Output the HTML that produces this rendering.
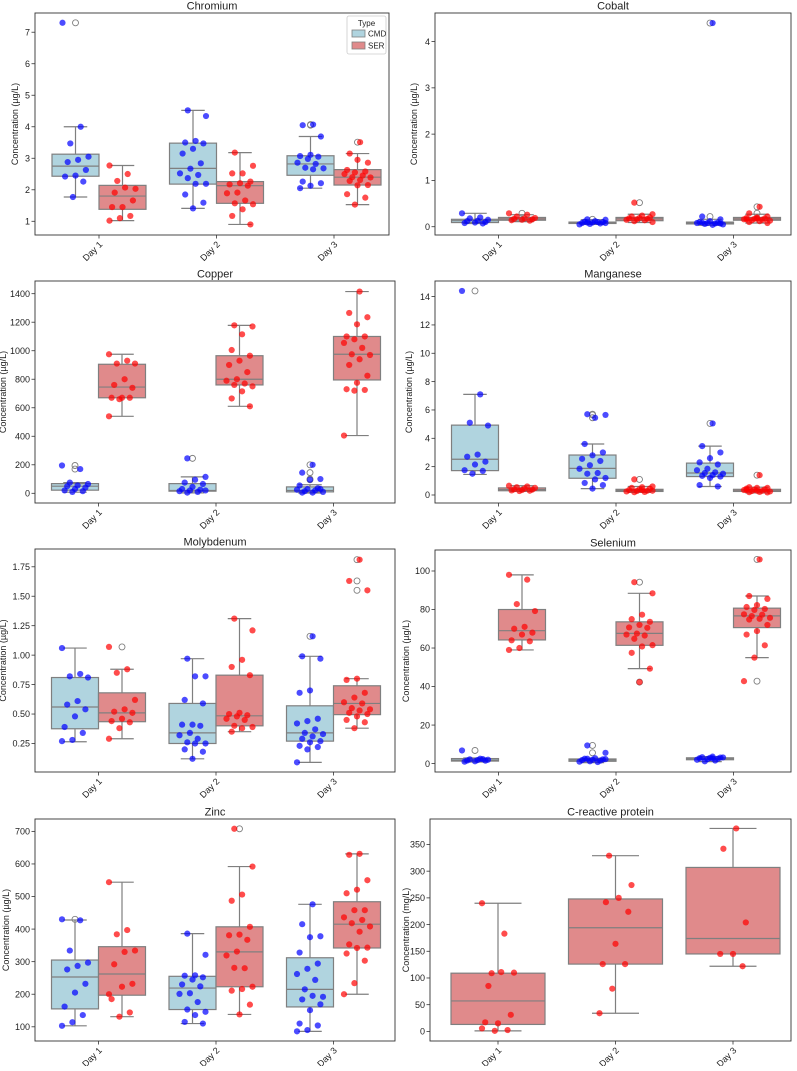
<!DOCTYPE html>
<html><head><meta charset="utf-8"><style>
body{margin:0;background:#fff}
svg text{font-family:"Liberation Sans","DejaVu Sans",sans-serif;fill:#222}
</style></head><body>
<svg id="fig" width="797" height="1066" viewBox="0 0 797 1066" xmlns="http://www.w3.org/2000/svg"></svg>
<script>
const days = ["Day 1","Day 2","Day 3"];

const chromiumTicks = [1,2,3,4,5,6,7];
const chromiumTickLabels = ["1","2","3","4","5","6","7"];
const chromiumCmd = [[7.3,4.0,3.47,3.05,2.95,2.88,2.63,2.45,2.42,2.26,1.77],[4.52,4.34,3.55,3.5,3.47,3.3,3.15,2.84,2.67,2.52,2.47,2.37,2.19,2.19,1.85,1.59,1.41],[4.07,4.05,3.69,3.11,3.07,3.05,2.98,2.86,2.82,2.7,2.68,2.65,2.26,2.21,2.13,2.05]];
const chromiumSer = [[2.77,2.5,2.28,2.03,2.07,1.91,1.66,1.45,1.45,1.17,1.1,1.02],[3.18,2.76,2.52,2.52,2.26,2.21,2.17,2.13,1.91,1.89,1.66,1.57,1.54,1.38,1.17,0.9],[3.51,3.15,2.86,2.95,2.63,2.58,2.55,2.5,2.45,2.4,2.39,2.31,2.28,2.15,2.14,1.86,1.75,1.53]];
const chromiumCmdBox = [[2.43,2.75,3.13,1.77,4.0],[2.18,2.68,3.48,1.41,4.52],[2.46,2.82,3.08,2.05,3.69]];
const chromiumSerBox = [[1.38,1.8,2.14,1.02,2.77],[1.57,2.13,2.26,0.9,3.18],[2.15,2.4,2.64,1.53,3.15]];

const cobaltTicks = [0,1,2,3,4];
const cobaltTickLabels = ["0","1","2","3","4"];
const cobaltCmd = [[0.29,0.2,0.18,0.15,0.13,0.12,0.1,0.09,0.08,0.07],[0.16,0.15,0.12,0.11,0.1,0.09,0.08,0.07,0.06,0.05,0.1,0.09,0.08],[4.4,0.22,0.16,0.12,0.1,0.09,0.08,0.08,0.07,0.06,0.05,0.04,0.09,0.07]];
const cobaltSer = [[0.29,0.26,0.22,0.19,0.18,0.17,0.16,0.15,0.14,0.13],[0.52,0.27,0.24,0.22,0.2,0.19,0.18,0.17,0.16,0.15,0.14,0.12,0.1],[0.43,0.29,0.22,0.2,0.19,0.18,0.17,0.16,0.15,0.14,0.13,0.12,0.1,0.08,0.18,0.16]];
const cobaltCmdBox = [[0.09,0.13,0.16,0.07,0.29],[0.07,0.09,0.1,0.05,0.15],[0.06,0.08,0.1,0.03,0.16]];
const cobaltSerBox = [[0.14,0.17,0.2,0.11,0.26],[0.13,0.17,0.2,0.09,0.27],[0.14,0.17,0.2,0.08,0.27]];

const copperTicks = [0,200,400,600,800,1000,1200,1400];
const copperTickLabels = ["0","200","400","600","800","1000","1200","1400"];
const copperCmd = [[195,170,75,65,55,50,40,30,20,15,10],[245,115,95,75,65,45,30,25,20,15,10,5,20],[200,145,100,95,55,35,30,25,20,15,10,5,5,30]];
const copperSer = [[975,930,910,910,800,760,740,670,670,670,660,540],[1178,1170,1115,1005,965,930,900,850,800,790,770,760,750,715,665,610],[1415,1265,1235,1185,1100,1100,1080,1055,1020,975,970,940,900,825,775,730,725,720,405]];
const copperCmdBox = [[22,50,68,8,75],[15,20,68,3,115],[10,20,45,2,60]];
const copperSerBox = [[670,745,905,540,975],[760,800,965,610,1178],[795,975,1100,405,1415]];

const manganeseTicks = [0,2,4,6,8,10,12,14];
const manganeseTickLabels = ["0","2","4","6","8","10","12","14"];
const manganeseCmd = [[14.4,7.1,5.1,4.9,2.85,2.7,2.35,2.15,1.75,1.7,1.5],[5.7,5.65,5.45,3.6,3.0,2.8,2.55,2.4,2.1,1.85,1.55,1.5,1.2,1.1,0.85,0.7,0.45],[5.05,3.45,3.0,2.6,2.3,2.15,1.85,1.75,1.6,1.55,1.5,1.4,1.35,1.3,1.2,0.7,0.6]];
const manganeseSer = [[0.65,0.6,0.55,0.5,0.45,0.4,0.38,0.35,0.32,0.3,0.28],[1.1,0.6,0.55,0.5,0.45,0.4,0.35,0.3,0.28,0.25,0.22,0.2,0.3,0.35],[1.4,0.55,0.5,0.5,0.45,0.4,0.38,0.35,0.3,0.28,0.25,0.22,0.2,0.18,0.3,0.35]];
const manganeseCmdBox = [[1.72,2.52,4.93,1.45,7.1],[1.18,1.88,2.82,0.45,3.6],[1.3,1.55,2.25,0.6,3.45]];
const manganeseSerBox = [[0.3,0.38,0.5,0.25,0.65],[0.25,0.32,0.4,0.18,0.6],[0.25,0.3,0.4,0.15,0.55]];

const molybdenumTicks = [0.25,0.5,0.75,1.0,1.25,1.5,1.75];
const molybdenumTickLabels = ["0.25","0.50","0.75","1.00","1.25","1.50","1.75"];
const molybdenumCmd = [[1.06,0.84,0.82,0.81,0.61,0.58,0.54,0.48,0.39,0.34,0.28,0.27],[0.97,0.82,0.82,0.62,0.59,0.41,0.41,0.40,0.34,0.32,0.29,0.26,0.25,0.25,0.20,0.18,0.12],[1.16,0.99,0.97,0.7,0.68,0.46,0.44,0.42,0.37,0.34,0.33,0.31,0.29,0.27,0.26,0.23,0.22,0.2,0.09]];
const molybdenumSer = [[1.07,0.88,0.85,0.62,0.54,0.52,0.51,0.46,0.44,0.43,0.38,0.29],[1.31,1.21,0.96,0.9,0.83,0.51,0.5,0.49,0.48,0.46,0.45,0.40,0.39,0.38,0.35],[1.81,1.63,1.55,0.8,0.79,0.68,0.64,0.6,0.59,0.55,0.54,0.53,0.51,0.5,0.48,0.45,0.43,0.38]];
const molybdenumCmdBox = [[0.375,0.56,0.81,0.265,1.06],[0.25,0.34,0.59,0.12,0.97],[0.27,0.34,0.57,0.09,0.99]];
const molybdenumSerBox = [[0.435,0.51,0.68,0.29,0.88],[0.40,0.485,0.83,0.35,1.31],[0.495,0.59,0.74,0.38,0.80]];

const seleniumTicks = [0,20,40,60,80,100];
const seleniumTickLabels = ["0","20","40","60","80","100"];
const seleniumCmd = [[6.8,2.5,2.2,2,1.8,1.6,1.5,1.2,1,2.3],[9.4,5.6,2.8,2.5,2.2,2,1.8,1.5,1.2,1,0.8,2.5,2.3],[3.6,3.3,3.1,3,2.8,2.5,2.3,2,1.6,1.2,3.2,2.7]];
const seleniumSer = [[98,95.5,82.8,79.2,71,70,68,67,64,63.5,60,59],[94.2,88.4,77.3,75,73.6,72,70.7,70.5,67.5,67,66.5,64.8,61.5,60.8,57.5,49.3,42.3],[106,87,85.5,82.3,81.3,80.3,79.8,77.5,77.3,76.6,75.7,75.2,74.8,72,68.8,67,61.4,55,42.8]];
const seleniumCmdBox = [[1.3,1.8,2.6,0.8,2.9],[1.2,1.8,2.4,0.5,2.8],[2.0,2.5,3.0,1.0,3.6]];
const seleniumSerBox = [[64.2,69,80,59,98],[61.4,67.6,73.6,49.3,88.4],[70.6,76.7,80.7,55,87]];

const zincTicks = [100,200,300,400,500,600,700];
const zincTickLabels = ["100","200","300","400","500","600","700"];
const zincCmd = [[430,427,334,297,287,276,232,205,162,136,114,103],[386,321,258,257,252,245,230,224,203,201,176,153,146,136,115,110],[476,415,378,375,328,294,278,262,244,215,192,195,184,169,151,110,104,90,86]];
const zincSer = [[544,397,384,334,330,292,232,223,185,144,131,200],[708,592,506,487,407,383,381,367,331,319,280,281,223,216,211,168,138],[631,628,550,521,510,458,458,436,428,418,408,392,353,343,342,325,303,234,200]];
const zincCmdBox = [[155,253,305,103,428],[153,219,255,110,386],[161,215,312,86,476]];
const zincSerBox = [[197,262,346,131,544],[223,330,407,138,592],[342,415,484,200,631]];

const crpTicks = [0,50,100,150,200,250,300,350];
const crpTickLabels = ["0","50","100","150","200","250","300","350"];
const crpSer = [[240,183,109,110,111,85,31,15,17,2.5,1,5.6],[329,274,250,242,224,164,126,126,80,34],[380,342,204,145,145,122]];
const crpSerBox = [[13,57,109,1,240],[126,194,248,34,329],[145,174,307,122,380]];

const NS = "http://www.w3.org/2000/svg";
const fig = document.getElementById('fig');
function mk(tag, attrs, parent){const e=document.createElementNS(NS,tag);for(const k in attrs)e.setAttribute(k,attrs[k]);(parent||fig).appendChild(e);return e;}

function panel(cfg){
  const g = mk('g',{});
  
  
  const L=cfg.L,R=cfg.R,T=cfg.T,B=cfg.B;
  const ys = v => B - (v - cfg.ymin)/(cfg.ymax - cfg.ymin)*(B-T);
  const xs = i => cfg.x0 + i*117.5;
  const title = mk('text',{x:(L+R)/2,y:T-3.5,'text-anchor':'middle','font-size':11},g);
  title.textContent = cfg.title;
  
  
  const yl = mk('text',{x:0,y:0,'text-anchor':'middle','font-size':9,transform:`translate(${cfg.ylx},${(T+B)/2}) rotate(-90)`},g);
  yl.textContent = cfg.ylabel;
  
  
  cfg.ticks.forEach((t,k)=>{
    const y=ys(t);
    mk('line',{x1:L-3.5,x2:L,y1:y,y2:y,stroke:'#333','stroke-width':0.8},g);
    const tl = mk('text',{x:L-5,y:y+3.2,'text-anchor':'end','font-size':9},g);
    tl.textContent = cfg.tickLabels[k];
    
    
  });
  days.forEach((d,i)=>{
    const x=xs(i);
    mk('line',{x1:x,x2:x,y1:B,y2:B+3.5,stroke:'#333','stroke-width':0.8},g);
    const tl = mk('text',{x:0,y:0,'text-anchor':'end','font-size':9,transform:`translate(${x+4},${B+10}) rotate(-45)`},g);
    tl.textContent = d;
    
    
  });
  cfg.series.forEach(s=>{
    s.box.forEach((b,i)=>{
      const cx = xs(i) + s.off, w = s.w;
      const [q1,med,q3,lo,hi] = b;
      mk('line',{x1:cx,x2:cx,y1:ys(q3),y2:ys(hi),stroke:'#7f7f7f','stroke-width':1.2},g);
      mk('line',{x1:cx,x2:cx,y1:ys(q1),y2:ys(lo),stroke:'#7f7f7f','stroke-width':1.2},g);
      mk('line',{x1:cx-w/4,x2:cx+w/4,y1:ys(hi),y2:ys(hi),stroke:'#7f7f7f','stroke-width':1.2},g);
      mk('line',{x1:cx-w/4,x2:cx+w/4,y1:ys(lo),y2:ys(lo),stroke:'#7f7f7f','stroke-width':1.2},g);
      const r = mk('rect',{x:cx-w/2,y:ys(q3),width:w,height:Math.max(0.5,ys(q1)-ys(q3)),fill:s.fill,stroke:'#7f7f7f','stroke-width':1.2},g);
      
      
      mk('line',{x1:cx-w/2,x2:cx+w/2,y1:ys(med),y2:ys(med),stroke:'#7f7f7f','stroke-width':1.2},g);
      s.pts[i].forEach(v=>{ if(v>hi||v<lo){ const o=mk('circle',{cx:cx,cy:ys(v),r:3,fill:'none',stroke:'#7f7f7f','stroke-width':0.9},g);
        
         }});
    });
  });
  cfg.series.forEach(s=>{
    s.pts.forEach((arr,i)=>{
      const cx = xs(i) + s.off;
      arr.forEach((v,j)=>{
        const jit = (((j*7+i*3)%11)-5)/5*s.jit;
        const c = mk('circle',{cx:cx+jit,cy:ys(v),r:3.1,fill:s.dot,'fill-opacity':0.7},g);
        
        
      });
    });
  });
  mk('rect',{x:L,y:T,width:R-L,height:B-T,fill:'none',stroke:'#333','stroke-width':0.9},g);
}
const CMDC='#b0d4df', SERC='#e08a8b';
function two(cmdPts,cmdBox,serPts,serBox){return [
  {key:'cmd',pts:cmdPts,box:cmdBox,off:-23.5,w:47,fill:CMDC,dot:'#0000ff',jit:13},
  {key:'ser',pts:serPts,box:serBox,off:23.5,w:47,fill:SERC,dot:'#ff0000',jit:13}];}
const YL='Concentration (µg/L)';
panel({name:'chromium',title:'Chromium',L:35,R:389,T:13,B:235,ymin:0.565,ymax:7.61,x0:99,ticks:chromiumTicks,tickLabels:chromiumTickLabels,ylx:18,ylabel:YL,series:two(chromiumCmd,chromiumCmdBox,chromiumSer,chromiumSerBox)});
panel({name:'cobalt',title:'Cobalt',L:435,R:791,T:13,B:235,ymin:-0.179,ymax:4.617,x0:498.5,ticks:cobaltTicks,tickLabels:cobaltTickLabels,ylx:417,ylabel:YL,series:two(cobaltCmd,cobaltCmdBox,cobaltSer,cobaltSerBox)});
panel({name:'copper',title:'Copper',L:35,R:395,T:281,B:503,ymin:-68,ymax:1489,x0:98.5,ticks:copperTicks,tickLabels:copperTickLabels,ylx:6,ylabel:YL,series:two(copperCmd,copperCmdBox,copperSer,copperSerBox)});
panel({name:'manganese',title:'Manganese',L:435,R:791,T:281,B:503,ymin:-0.565,ymax:15.1,x0:498.5,ticks:manganeseTicks,tickLabels:manganeseTickLabels,ylx:412,ylabel:YL,series:two(manganeseCmd,manganeseCmdBox,manganeseSer,manganeseSerBox)});
panel({name:'molybdenum',title:'Molybdenum',L:35,R:395,T:549,B:772,ymin:0.008,ymax:1.901,x0:98.5,ticks:molybdenumTicks,tickLabels:molybdenumTickLabels,ylx:6,ylabel:YL,series:two(molybdenumCmd,molybdenumCmdBox,molybdenumSer,molybdenumSerBox)});
panel({name:'selenium',title:'Selenium',L:435,R:791,T:550,B:772,ymin:-4.37,ymax:110.9,x0:498.5,ticks:seleniumTicks,tickLabels:seleniumTickLabels,ylx:409,ylabel:YL,series:two(seleniumCmd,seleniumCmdBox,seleniumSer,seleniumSerBox)});
panel({name:'zinc',title:'Zinc',L:35,R:395,T:819,B:1041,ymin:56.4,ymax:738,x0:98.5,ticks:zincTicks,tickLabels:zincTickLabels,ylx:9,ylabel:YL,series:two(zincCmd,zincCmdBox,zincSer,zincSerBox)});
panel({name:'crp',title:'C-reactive protein',L:430,R:791,T:819,B:1041,ymin:-18,ymax:397.7,x0:498,ticks:crpTicks,tickLabels:crpTickLabels,ylx:409,ylabel:'Concentration (mg/L)',series:[
  {key:'ser',pts:crpSer,box:crpSerBox,off:0,w:94,fill:SERC,dot:'#ff0000',jit:16}]});

// legend
const lg = mk('g',{});


mk('rect',{x:347,y:16,width:39,height:38,fill:'#fff',stroke:'#ccc','stroke-width':0.8,rx:2},lg);
const lt = mk('text',{x:366.5,y:26,'text-anchor':'middle','font-size':8},lg); lt.textContent='Type';


mk('rect',{x:352,y:30,width:13,height:7,fill:CMDC,stroke:'#7f7f7f','stroke-width':0.8},lg);
const l1 = mk('text',{x:368,y:36.5,'font-size':8},lg); l1.textContent='CMD';


mk('rect',{x:352,y:42,width:13,height:7,fill:SERC,stroke:'#7f7f7f','stroke-width':0.8},lg);
const l2 = mk('text',{x:368,y:48.5,'font-size':8},lg); l2.textContent='SER';


</script>
</body></html>
